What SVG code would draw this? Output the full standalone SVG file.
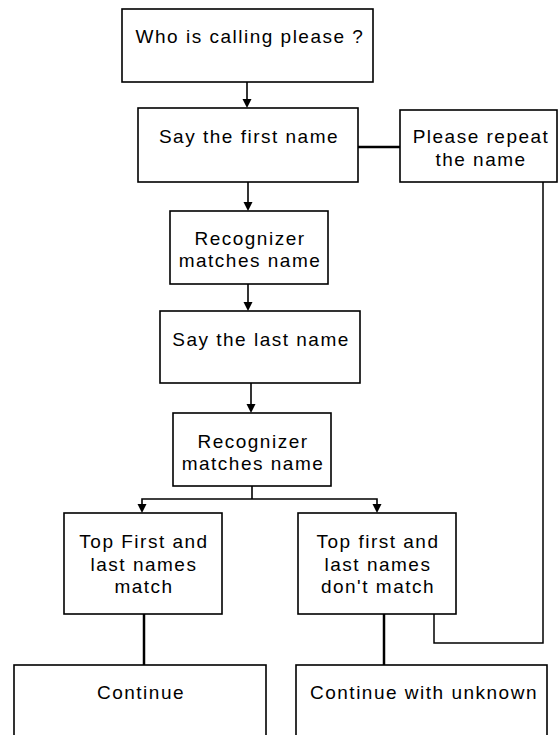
<svg xmlns="http://www.w3.org/2000/svg" width="558" height="735" viewBox="0 0 558 735">
<style>
.box{fill:#fff;stroke:#000;stroke-width:1.6}
.t{font-family:"Liberation Sans",Arial,sans-serif;font-size:19px;letter-spacing:1.5px;text-anchor:middle;fill:#000}
.c{fill:none;stroke:#000;stroke-width:1.6}
.thick{fill:none;stroke:#000;stroke-width:2.5}
.thin{fill:none;stroke:#000;stroke-width:1.5}
</style>
<g id="connectors">
<path class="c" d="M247,82 V99"/><path d="M242.5,99 L251.5,99 L247,108 Z"/>
<path class="thick" d="M353,147 H400"/>
<path class="c" d="M248,182 V202"/><path d="M243.5,202 L252.5,202 L248,211 Z"/>
<path class="c" d="M248,284 V302"/><path d="M243.5,302 L252.5,302 L248,311 Z"/>
<path class="c" d="M251,383 V404"/><path d="M246.5,404 L255.5,404 L251,413 Z"/>
<path class="c" d="M252,486 V499 M142,504 V499 H377 V504"/>
<path d="M137.5,504 L146.5,504 L142,513 Z"/><path d="M372.5,504 L381.5,504 L377,513 Z"/>
<path class="thick" d="M144,614 V665"/>
<path class="thick" d="M384,614 V665"/>
<path class="thin" d="M434,612 V643 H543 V180"/>
</g>
<g id="n1"><rect class="box" x="122" y="9" width="251" height="73"/><text class="t" x="250" y="43">Who is calling please ?</text></g>
<g id="n2"><rect class="box" x="138" y="108" width="220" height="74"/><text class="t" x="249" y="143">Say the first name</text></g>
<g id="n3"><rect class="box" x="400" y="110" width="157" height="72"/><text class="t" x="481" y="143">Please repeat</text><text class="t" x="481" y="166">the name</text></g>
<g id="n4"><rect class="box" x="170" y="211" width="158" height="73"/><text class="t" x="250" y="245">Recognizer</text><text class="t" x="250" y="267">matches name</text></g>
<g id="n5"><rect class="box" x="160" y="311" width="200" height="72"/><text class="t" x="261" y="346">Say the last name</text></g>
<g id="n6"><rect class="box" x="173" y="413" width="158" height="73"/><text class="t" x="253" y="448">Recognizer</text><text class="t" x="253" y="470">matches name</text></g>
<g id="n7"><rect class="box" x="64" y="513" width="158" height="101"/><text class="t" x="144" y="548">Top First and</text><text class="t" x="144" y="571">last names</text><text class="t" x="144" y="593">match</text></g>
<g id="n8"><rect class="box" x="298" y="513" width="158" height="101"/><text class="t" x="378" y="548">Top first and</text><text class="t" x="378" y="571">last names</text><text class="t" x="378" y="593">don't match</text></g>
<g id="n9"><rect class="box" x="14" y="665" width="252" height="80"/><text class="t" x="141" y="699">Continue</text></g>
<g id="n10"><rect class="box" x="296" y="665" width="251" height="80"/><text class="t" x="424" y="699">Continue with unknown</text></g>
</svg>
